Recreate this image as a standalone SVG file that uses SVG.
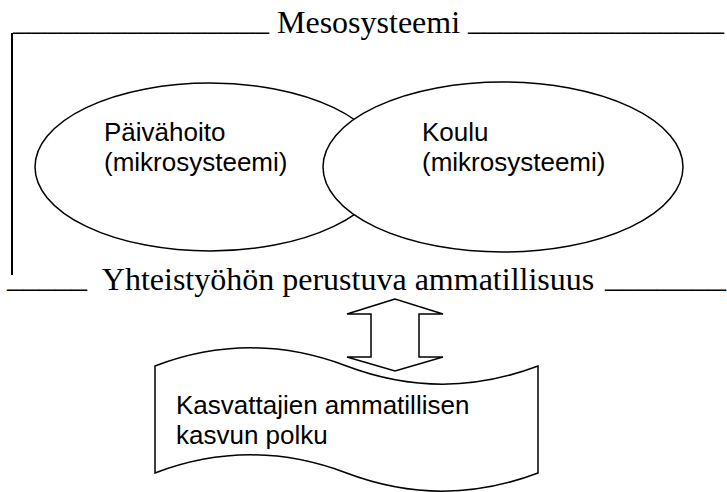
<svg xmlns="http://www.w3.org/2000/svg" width="727" height="492" viewBox="0 0 727 492">
  <style>
    .serif { font-family: "Liberation Serif", "Times New Roman", serif; font-size: 32px; fill: #000; }
    .sans { font-family: "Liberation Sans", Arial, sans-serif; font-size: 26px; fill: #000; }
    .shape { fill: #fff; stroke: #000; stroke-width: 1.5; }
    .rule { stroke: #000; stroke-width: 2; fill: none; }
  </style>
  <rect width="727" height="492" fill="#fff"/>

  <!-- mesosystem frame: left bar and the two underlined headings -->
  <g id="frame">
    <line class="rule" x1="12" y1="33" x2="12" y2="275"/>
    <text class="serif" x="13" y="33" xml:space="preserve"><tspan dy="-3">________________</tspan><tspan dy="3"> Mesosysteemi </tspan><tspan dy="-3">________________</tspan></text>
    <text class="serif" x="7" y="290" xml:space="preserve"><tspan dy="-3">_____</tspan><tspan dy="3">  Yhteistyöhön perustuva ammatillisuus </tspan><tspan x="605" dy="-3" textLength="121" lengthAdjust="spacingAndGlyphs">_______</tspan></text>
  </g>

  <!-- microsystems -->
  <g id="paivahoito">
    <ellipse class="shape" cx="210" cy="167" rx="175" ry="84"/>
    <text class="sans" x="104" y="141">Päivähoito</text>
    <text class="sans" x="104" y="171">(mikrosysteemi)</text>
  </g>
  <g id="koulu">
    <ellipse class="shape" cx="503" cy="167" rx="180" ry="85"/>
    <text class="sans" x="422" y="141">Koulu</text>
    <text class="sans" x="422" y="171">(mikrosysteemi)</text>
  </g>

  <!-- two-way link between the levels -->
  <g id="connectors">
    <polygon class="shape" points="395,299 347,314 371,314 371,357 347,357 395,371 443,357 419,357 419,314 443,314"/>
  </g>

  <!-- professional growth path (punched-tape shape) -->
  <g id="polku">
    <path class="shape" d="M155,366 C218,342 283,342 346.5,366 C410,390 475,390 538,366 L538,473 C475,497 410,497 346.5,473 C283,449 218,449 155,473 Z"/>
    <text class="sans" x="176" y="414">Kasvattajien ammatillisen</text>
    <text class="sans" x="176" y="444">kasvun polku</text>
  </g>
</svg>
